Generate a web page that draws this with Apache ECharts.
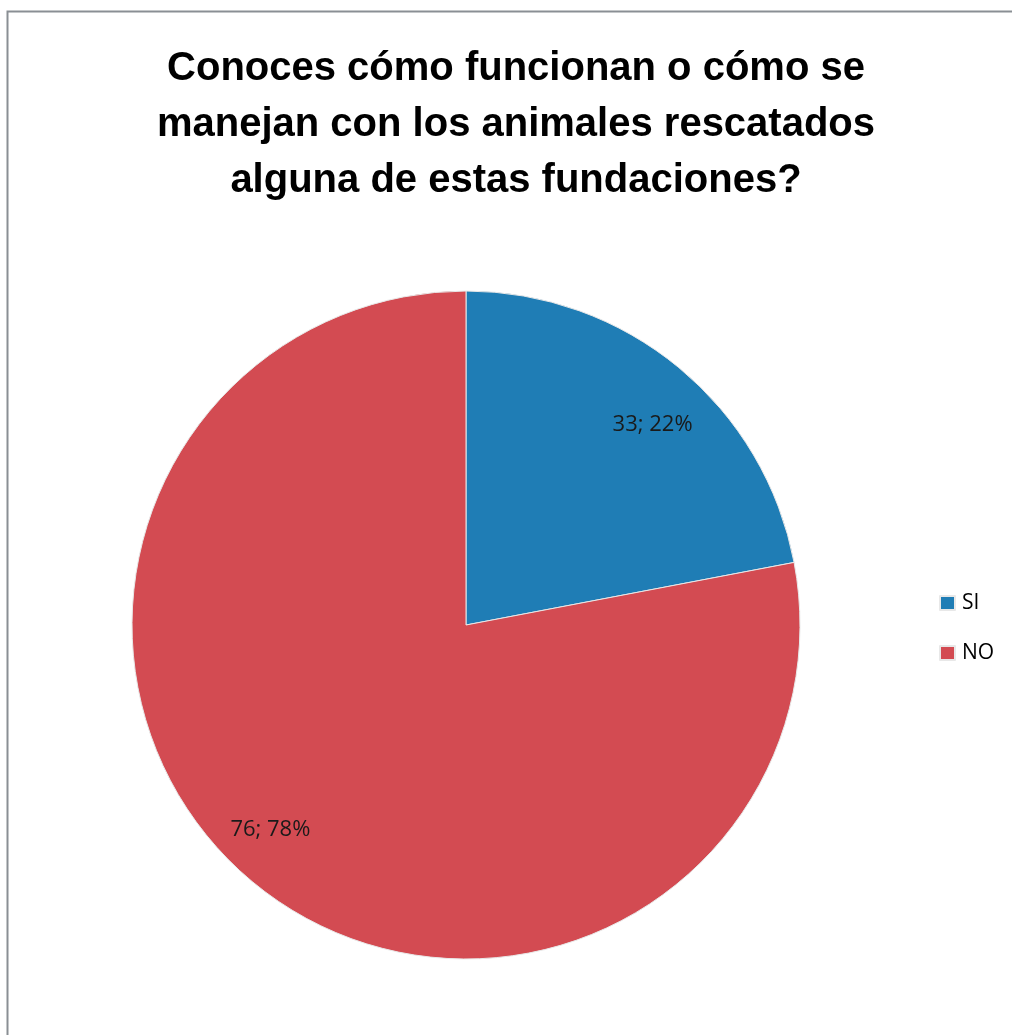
<!DOCTYPE html>
<html>
<head>
<meta charset="utf-8">
<script src="https://cdn.jsdelivr.net/npm/echarts@6/dist/echarts.min.js"></script>
<style>
  html, body { margin: 0; padding: 0; background: #fff; }
  #chart { width: 1012px; height: 1035px; }
</style>
</head>
<body>
<div id="chart"></div>
<script>
// Survey answers: share of respondents (slice size) and raw counts shown in labels
const categories = ['SI', 'NO'];
const percentages = [22, 78];
const counts = [33, 76];
const colors = ['#1F7DB5', '#D34B52'];

const titleText = 'Conoces cómo funcionan o cómo se\nmanejan con los animales rescatados\nalguna de estas fundaciones?';

// small nudges of each label away from the ring centre
const labelOffsets = [[8, 16], [-17, -11]];

const sliceData = categories.map((name, i) => ({
  name: name,
  value: percentages[i],
  itemStyle: { color: colors[i] }
}));

const chart = echarts.init(document.getElementById('chart'), null, { renderer: 'canvas' });

const center = [466, 625];
const R = 334;

chart.setOption({
  animation: false,
  backgroundColor: '#ffffff',
  graphic: [{
    type: 'rect',
    shape: { x: 7.5, y: 11.5, width: 1100, height: 1100 },
    style: { fill: 'none', stroke: '#8a8f94', lineWidth: 2 },
    silent: true,
    z: -1
  }],
  title: {
    text: titleText,
    left: 516,
    top: 41,
    padding: 0,
    textAlign: 'center',
    textStyle: {
      fontFamily: '"Liberation Sans", Arial, sans-serif',
      fontWeight: 'bold',
      fontSize: 40,
      lineHeight: 56,
      color: '#000'
    }
  },
  legend: {
    orient: 'vertical',
    left: 939,
    top: 592,
    padding: 0,
    itemWidth: 15,
    itemHeight: 14,
    itemGap: 28,
    icon: 'rect',
    data: categories,
    textStyle: {
      fontFamily: '"Open Sans", "Liberation Sans", sans-serif',
      fontSize: 21,
      lineHeight: 22,
      color: '#000',
      padding: [0, 0, 0, 2]
    }
  },
  series: [
    {
      type: 'pie',
      center: center,
      radius: [0, R],
      startAngle: 90,
      clockwise: true,
      data: sliceData,
      label: { show: false },
      labelLine: { show: false },
      itemStyle: { borderColor: '#e8e8e8', borderWidth: 1 },
      emphasis: { disabled: true },
      silent: true
    },
    {
      // transparent ring that carries the labels near the outer part of each slice
      type: 'pie',
      center: center,
      radius: [R * 0.66, R],
      startAngle: 90,
      clockwise: true,
      data: sliceData.map((d, i) => ({
        name: d.name,
        value: d.value,
        itemStyle: { color: 'rgba(0,0,0,0)' },
        label: { offset: labelOffsets[i] }
      })),
      itemStyle: { borderWidth: 0 },
      label: {
        show: true,
        position: 'inside',
        formatter: p => counts[p.dataIndex] + '; ' + percentages[p.dataIndex] + '%',
        fontFamily: '"Open Sans", "Liberation Sans", sans-serif',
        fontSize: 22,
        color: '#1a1a1a'
      },
      labelLine: { show: false },
      emphasis: { disabled: true },
      silent: true,
      z: 3
    }
  ]
});
</script>
</body>
</html>
